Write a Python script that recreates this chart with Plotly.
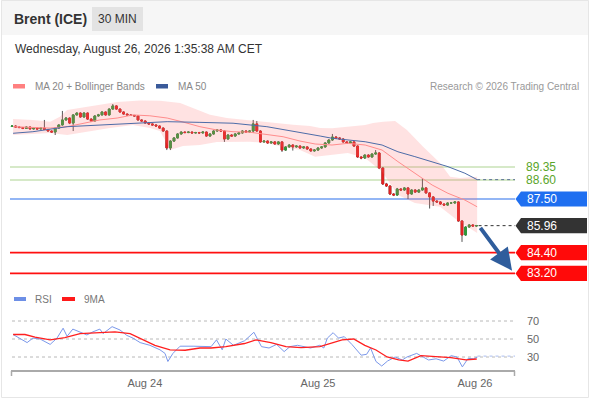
import plotly.graph_objects as go

# ---------------- DATA ----------------
title = "Brent (ICE)"
timeframe = "30 MIN"
timestamp = "Wednesday, August 26, 2026 1:35:38 AM CET"

opens = [91.70, 91.72, 91.66, 91.63, 91.58, 91.66, 91.55, 91.60, 91.55, 91.60,
         91.52, 91.43, 91.37, 91.60, 91.78, 92.07, 92.18, 91.89, 92.36, 92.47,
         92.24, 92.47, 92.12, 92.01, 92.30, 92.36, 92.53, 92.36, 92.70, 92.88,
         92.70, 92.53, 92.41, 92.36, 92.33, 92.30, 92.07, 92.01, 91.89, 91.84,
         91.78, 91.72, 91.60, 91.43, 90.45, 90.85, 91.03, 91.26, 91.37, 91.34,
         91.37, 91.32, 91.34, 91.32, 91.37, 91.14, 91.26, 91.43, 91.49, 91.43,
         90.97, 91.20, 91.14, 91.26, 91.32, 91.43, 91.37, 91.43, 91.84, 91.43,
         90.80, 90.85, 90.74, 90.80, 90.68, 90.80, 90.33, 90.51, 90.62, 90.51,
         90.56, 90.45, 90.51, 90.39, 90.28, 90.33, 90.45, 90.51, 90.74, 90.91,
         91.08, 91.03, 90.97, 90.80, 90.74, 90.80, 90.56, 89.93, 89.87, 90.04,
         89.93, 90.10, 90.16, 89.29, 88.37, 88.25, 87.79, 87.73, 88.08, 88.02,
         88.14, 87.79, 88.02, 87.90, 88.02, 88.14, 87.85, 87.62, 87.38, 87.33,
         87.21, 87.15, 87.27, 87.27, 87.33, 86.23, 85.42, 85.88, 86.00, 85.94]
closes = [91.72, 91.66, 91.63, 91.58, 91.66, 91.55, 91.60, 91.55, 91.60, 91.52,
          91.43, 91.37, 91.60, 91.78, 92.07, 92.18, 91.89, 92.36, 92.47, 92.24,
          92.47, 92.12, 92.01, 92.30, 92.36, 92.53, 92.36, 92.70, 92.88, 92.70,
          92.53, 92.41, 92.36, 92.33, 92.30, 92.07, 92.01, 91.89, 91.84, 91.78,
          91.72, 91.60, 91.43, 90.45, 90.85, 91.03, 91.26, 91.37, 91.34, 91.37,
          91.32, 91.34, 91.32, 91.37, 91.14, 91.26, 91.43, 91.49, 91.43, 90.97,
          91.20, 91.14, 91.26, 91.32, 91.43, 91.37, 91.43, 91.84, 91.43, 90.80,
          90.85, 90.74, 90.80, 90.68, 90.80, 90.33, 90.51, 90.62, 90.51, 90.56,
          90.45, 90.51, 90.39, 90.28, 90.33, 90.45, 90.51, 90.74, 90.91, 91.08,
          91.03, 90.97, 90.80, 90.74, 90.80, 90.56, 89.93, 89.87, 90.04, 89.93,
          90.10, 90.16, 89.29, 88.37, 88.25, 87.79, 87.73, 88.08, 88.02, 88.14,
          87.79, 88.02, 87.90, 88.02, 88.14, 87.85, 87.62, 87.38, 87.33, 87.21,
          87.15, 87.27, 87.27, 87.33, 86.23, 85.42, 85.88, 86.00, 85.94, 85.96]
highs = [91.76, 91.75, 91.69, 91.66, 91.70, 91.69, 91.63, 91.64, 91.66, 92.07,
         91.55, 91.46, 91.63, 91.81, 92.59, 92.24, 92.21, 92.40, 92.51, 92.50,
         92.51, 92.50, 92.16, 92.34, 92.42, 92.57, 92.56, 92.74, 92.99, 92.92,
         92.73, 92.56, 92.44, 92.39, 92.36, 92.33, 92.10, 92.04, 91.92, 91.87,
         91.81, 91.75, 91.64, 91.47, 90.89, 91.07, 91.30, 91.41, 91.40, 91.41,
         91.40, 91.38, 91.38, 91.41, 91.40, 91.30, 91.47, 91.53, 91.53, 91.47,
         91.24, 91.24, 91.30, 91.36, 91.47, 91.47, 91.47, 92.07, 92.01, 91.47,
         90.89, 90.89, 90.84, 90.84, 90.84, 90.84, 90.55, 90.66, 90.66, 90.60,
         90.60, 90.55, 90.55, 90.43, 90.37, 90.49, 90.55, 90.78, 90.95, 91.26,
         91.14, 91.07, 91.01, 90.84, 90.84, 90.84, 90.60, 89.97, 90.08, 90.08,
         90.14, 90.33, 90.20, 89.33, 88.43, 88.29, 87.83, 88.14, 88.12, 88.18,
         88.18, 88.06, 88.06, 88.06, 88.71, 88.18, 87.89, 87.66, 87.42, 87.37,
         87.25, 87.31, 87.32, 87.37, 87.37, 86.27, 85.92, 86.04, 86.04, 86.00]
lows = [91.66, 91.63, 91.60, 91.54, 91.55, 91.51, 91.52, 91.52, 91.52, 91.49,
        91.40, 91.33, 91.20, 91.57, 91.75, 92.03, 91.83, 91.43, 92.33, 92.20,
        92.21, 92.08, 91.95, 91.98, 92.27, 92.33, 92.32, 92.33, 92.67, 92.66,
        92.49, 92.38, 92.33, 92.30, 92.27, 92.03, 91.97, 91.86, 91.80, 91.74,
        91.68, 91.56, 91.39, 90.33, 90.33, 90.80, 91.00, 91.22, 91.31, 91.31,
        91.28, 91.29, 91.28, 91.28, 91.10, 91.11, 91.22, 91.40, 91.39, 90.80,
        90.93, 91.10, 91.11, 91.22, 91.28, 91.33, 91.33, 91.32, 91.39, 90.76,
        90.76, 90.70, 90.70, 90.64, 90.64, 90.22, 90.29, 90.47, 90.30, 90.47,
        90.41, 90.41, 90.35, 90.24, 90.24, 90.29, 90.41, 90.47, 90.70, 90.87,
        90.99, 90.93, 90.76, 90.70, 90.70, 90.52, 89.89, 89.80, 89.83, 89.89,
        89.89, 90.06, 89.25, 88.31, 88.20, 87.73, 87.67, 87.69, 87.96, 87.98,
        87.50, 87.75, 87.86, 87.86, 87.98, 87.81, 86.95, 87.10, 87.27, 87.17,
        87.11, 87.11, 87.22, 87.23, 86.19, 85.02, 85.38, 85.84, 85.90, 85.90]

ma20_x = [0.3, 10.6, 15.3, 19.7, 24.4, 29.2, 33.6, 38.3, 43.1, 47.5, 52.2, 56.9, 61.4, 66.1,
          70.8, 75.3, 80, 84.2, 88.9, 93.3, 98.1, 102.8, 107.2, 111.9, 116.7, 121.1, 125.8, 129.2]
ma20 = [91.68, 91.60, 91.68, 91.89, 92.07, 92.18, 92.36, 92.31, 92.18, 91.95, 91.68, 91.49, 91.39, 91.36,
        91.24, 91.10, 90.85, 90.68, 90.62, 90.72, 90.62, 90.33, 89.66, 88.99, 88.31, 87.83, 87.44, 87.05]

ma50_x = [0.3, 5.8, 15.3, 24.4, 33.6, 43.1, 52.2, 61.4, 70.8, 80, 85.6, 88.9, 93.3, 98.1,
          102.8, 107.2, 111.9, 116.7, 121.1, 125.8, 129.2]
ma50 = [91.30, 91.39, 91.68, 91.78, 91.88, 91.97, 91.93, 91.88, 91.68, 91.37, 91.14, 91.01, 90.91, 90.81,
        90.62, 90.23, 89.95, 89.66, 89.37, 88.99, 88.62]

up_x = [0.3, 5.8, 10.6, 13.3, 15.3, 19.7, 24.4, 29.2, 35.6, 41.1, 46.7, 50.3, 55, 59.7, 64.2, 68.9,
        73.6, 78.1, 82.8, 85.6, 88.9, 93.3, 98.1, 100.3, 103.1, 106.4, 109.7, 114.2, 118.9, 121.7, 124.4, 129.2]
upper = [92.12, 92.07, 91.97, 92.26, 92.64, 92.78, 92.93, 93.11, 93.19, 93.18, 93.05, 92.76, 92.37, 92.18,
         92.08, 92.01, 91.89, 91.79, 91.72, 91.60, 91.59, 91.68, 91.78, 91.89, 91.97, 92.01, 91.49, 90.52,
         89.58, 88.79, 88.71, 88.79]
lo_x = [0.3, 10.6, 15.3, 19.7, 27.2, 33.6, 38.3, 41.1, 42.5, 43.9, 47.5, 52.2, 56.9, 66.1, 70.8, 75.3,
        80, 84.2, 88.9, 93.3, 98.1, 102.8, 107.2, 111.9, 118.9, 123.6, 129.2]
lower = [91.20, 91.32, 91.20, 91.32, 91.60, 91.78, 91.60, 91.43, 90.91, 90.33, 90.56, 90.62, 90.80, 90.81,
         90.74, 90.51, 90.33, 89.94, 90.04, 90.16, 89.87, 89.08, 87.73, 87.27, 87.05, 86.29, 85.53]

rsi_x = [0.3, 2.2, 4.2, 5.8, 7.8, 10.6, 12.5, 14.2, 15.3, 16.9, 18.9, 20.8, 22.5, 24.4, 25.3, 27.8, 30,
         31.9, 33.6, 35.6, 38.3, 41.1, 42.5, 43.3, 44.7, 46.7, 50.3, 53.2, 55.3, 56.8, 58.4, 59.4, 61.5,
         64.6, 67.2, 69.3, 71.4, 73.5, 75.6, 77.2, 79.3, 82.9, 85.5, 86.6, 87.6, 89.2, 90.7, 92.3, 94.4,
         97, 98.5, 99.6, 101.1, 102.7, 104.3, 106.4, 108.4, 109.7, 112.4, 114.2, 115.7, 117.8, 119.9,
         122, 123.6, 125.1, 126.7, 128.2, 129.3]
rsi = [55, 51, 46, 51, 50, 44, 51, 62, 53, 61, 58, 54.5, 58, 61, 56, 63.7, 60, 54, 51, 46, 43, 38, 34,
       25, 34, 42, 42, 42, 41.5, 49, 38, 50, 43, 48, 57.5, 41.5, 40, 44, 36, 41.5, 43, 40, 43, 40, 51,
       57, 51, 52.6, 44, 32, 33, 40, 25, 20, 25.5, 30, 26.7, 30, 34, 30, 26.7, 28, 25.5, 31.5, 30, 19,
       28.5, 28, 30]
ma9_x = [0.3, 3.6, 6.4, 10.6, 14.7, 18.9, 24.4, 28.6, 32.8, 35.6, 39.7, 43.9, 48.1, 52.2, 55.3, 59.4,
         64.6, 67.8, 71.9, 76.1, 80.3, 85.5, 88.6, 91.7, 94.9, 98, 101.1, 104.2, 107.4, 110, 113.6,
         117.8, 121.9, 126.1, 129.1]
rsi_ma9 = [55, 55, 52, 49, 51.5, 56, 57, 58, 56, 51, 43, 38, 37.5, 40, 40, 41.5, 45, 49, 46, 41.5,
           40.4, 41.5, 45, 49, 50, 43, 37.8, 30, 26.7, 25.5, 31.5, 30, 29.3, 26.7, 27.8]
rsi_levels = [30, 50, 70]

resistances = [89.35, 88.60]
pivot = 87.50
supports = [84.40, 83.20]
last_price = 85.96

date_ticks = [36.9, 85.0, 128.6]
date_labels = ["Aug 24", "Aug 25", "Aug 26"]

arrow_from = (129.8, 85.92)
arrow_to = (138.9, 83.36)

# ---------------- STYLE / LAYOUT ----------------
W, H = 590, 400
FONT = "Liberation Sans, Arial, sans-serif"
GREEN, RED = "#2e9a3a", "#e42222"
X_RANGE = [-0.556, 139.72]
P_RANGE = [82.645, 93.512]
R_RANGE = [14.44, 87.78]


def fx(px):
    return px / W


def fy(py):
    return 1 - py / H


n = len(closes)
idx = list(range(n))

fig = go.Figure()

# Bollinger band area
fig.add_trace(go.Scatter(x=up_x + lo_x[::-1], y=upper + lower[::-1], fill="toself",
                         fillcolor="rgba(255,110,110,0.2)", line=dict(width=0),
                         mode="lines", hoverinfo="skip", xaxis="x", yaxis="y"))
fig.add_trace(go.Scatter(x=ma20_x, y=ma20, mode="lines", line=dict(color="#ff8c8c", width=1),
                         xaxis="x", yaxis="y"))
fig.add_trace(go.Scatter(x=ma50_x, y=ma50, mode="lines", line=dict(color="#4d6ca8", width=1),
                         xaxis="x", yaxis="y"))
# MA50 projection
fig.add_trace(go.Scatter(x=[ma50_x[-1], X_RANGE[1]], y=[ma50[-1], ma50[-1]], mode="lines",
                         line=dict(color="#5b6f95", width=1, dash="dot"), xaxis="x", yaxis="y"))

# candles: wicks (gray) then coloured bodies
fig.add_trace(go.Candlestick(x=idx, open=opens, high=highs, low=lows, close=closes,
                             increasing=dict(line=dict(color="#555555", width=1), fillcolor=GREEN),
                             decreasing=dict(line=dict(color="#555555", width=1), fillcolor=RED),
                             whiskerwidth=0, xaxis="x", yaxis="y", hoverinfo="skip"))
fig.add_trace(go.Candlestick(x=idx, open=opens, close=closes,
                             high=[max(o, c) for o, c in zip(opens, closes)],
                             low=[min(o, c) for o, c in zip(opens, closes)],
                             increasing=dict(line=dict(color=GREEN, width=1), fillcolor=GREEN),
                             decreasing=dict(line=dict(color=RED, width=1), fillcolor=RED),
                             whiskerwidth=0, xaxis="x", yaxis="y", hoverinfo="skip"))

# last price dotted
fig.add_trace(go.Scatter(x=[n - 1 + 0.6, X_RANGE[1]], y=[last_price, last_price], mode="lines",
                         line=dict(color="#333333", width=1, dash="dot"), xaxis="x", yaxis="y"))

# RSI panel
fig.add_trace(go.Scatter(x=rsi_x, y=rsi, mode="lines", line=dict(color="#7b98ea", width=1),
                         xaxis="x2", yaxis="y2"))
fig.add_trace(go.Scatter(x=[rsi_x[-1], X_RANGE[1]], y=[rsi[-1] + 1, rsi[-1] + 1], mode="lines",
                         line=dict(color="#a9bcf0", width=1, dash="dot"), xaxis="x2", yaxis="y2"))
fig.add_trace(go.Scatter(x=ma9_x, y=rsi_ma9, mode="lines", line=dict(color="#ff1f1f", width=1.3),
                         xaxis="x2", yaxis="y2"))

shapes = []
annotations = []

# frame + header band
shapes.append(dict(type="rect", xref="paper", yref="paper", x0=fx(1), x1=fx(589), y0=fy(35), y1=fy(0),
                   fillcolor="#f6f6f6", line=dict(width=0), layer="below"))
shapes.append(dict(type="rect", xref="paper", yref="paper", x0=fx(1.5), x1=fx(588.5), y0=fy(397.5), y1=fy(0.5),
                   fillcolor="rgba(0,0,0,0)", line=dict(color="#e6e6e6", width=1), layer="below"))
shapes.append(dict(type="rect", xref="paper", yref="paper", x0=fx(92), x1=fx(143), y0=fy(31), y1=fy(7),
                   fillcolor="#e3e3e3", line=dict(width=0)))
annotations.append(dict(text="<b>" + title + "</b>", x=fx(12), y=fy(19), xref="paper", yref="paper",
                        xanchor="left", yanchor="middle", showarrow=False,
                        font=dict(family=FONT, size=14, color="#333333")))
annotations.append(dict(text=timeframe, x=fx(117.5), y=fy(19), xref="paper", yref="paper",
                        xanchor="center", yanchor="middle", showarrow=False,
                        font=dict(family=FONT, size=12, color="#333333")))
annotations.append(dict(text=timestamp, x=fx(13), y=fy(49), xref="paper", yref="paper",
                        xanchor="left", yanchor="middle", showarrow=False,
                        font=dict(family=FONT, size=12, color="#333333")))

# legends
shapes.append(dict(type="rect", xref="paper", yref="paper", x0=fx(13), x1=fx(25), y0=fy(88.5), y1=fy(84),
                   fillcolor="#ff8080", line=dict(width=0)))
annotations.append(dict(text="MA 20 + Bollinger Bands", x=fx(33), y=fy(86.5), xref="paper", yref="paper",
                        xanchor="left", yanchor="middle", showarrow=False,
                        font=dict(family=FONT, size=10, color="#888888")))
shapes.append(dict(type="rect", xref="paper", yref="paper", x0=fx(156), x1=fx(168), y0=fy(88.5), y1=fy(84),
                   fillcolor="#3a5a9a", line=dict(width=0)))
annotations.append(dict(text="MA 50", x=fx(176), y=fy(86.5), xref="paper", yref="paper",
                        xanchor="left", yanchor="middle", showarrow=False,
                        font=dict(family=FONT, size=10, color="#888888")))
annotations.append(dict(text="Research © 2026 Trading Central", x=fx(581), y=fy(86.5), xref="paper",
                        yref="paper", xanchor="right", yanchor="middle", showarrow=False,
                        font=dict(family=FONT, size=10, color="#999999")))
shapes.append(dict(type="rect", xref="paper", yref="paper", x0=fx(14), x1=fx(26), y0=fy(301), y1=fy(297),
                   fillcolor="#6d8fe6", line=dict(width=0)))
annotations.append(dict(text="RSI", x=fx(33), y=fy(299), xref="paper", yref="paper",
                        xanchor="left", yanchor="middle", showarrow=False,
                        font=dict(family=FONT, size=10, color="#777777")))
shapes.append(dict(type="rect", xref="paper", yref="paper", x0=fx(62), x1=fx(75), y0=fy(301), y1=fy(297),
                   fillcolor="#ff1a1a", line=dict(width=0)))
annotations.append(dict(text="9MA", x=fx(82), y=fy(299), xref="paper", yref="paper",
                        xanchor="left", yanchor="middle", showarrow=False,
                        font=dict(family=FONT, size=10, color="#777777")))

# level lines
for lv in resistances:
    shapes.append(dict(type="line", xref="x domain", yref="y", x0=0, x1=1, y0=lv, y1=lv,
                       line=dict(color="#c8e2b6", width=1.6), layer="below"))
    annotations.append(dict(text=f"{lv:.2f}", x=fx(524), y=lv, xref="paper", yref="y",
                            xanchor="left", yanchor="middle", showarrow=False,
                            font=dict(family=FONT, size=12, color="#5aa52a")))
shapes.append(dict(type="line", xref="x domain", yref="y", x0=0, x1=1, y0=pivot, y1=pivot,
                   line=dict(color="#6f9ef2", width=1.6), layer="below"))
for lv in supports:
    shapes.append(dict(type="line", xref="x domain", yref="y", x0=0, x1=1, y0=lv, y1=lv,
                       line=dict(color="#ff1010", width=1.6), layer="below"))

HALF = 7.6 / 17.3  # tag half-height in price units


def tag(level, color):
    xt, xb, xr = fx(515.5), fx(521), fx(587)
    path = (f"M {xt},{level} L {xb},{level + HALF} L {xr},{level + HALF} "
            f"L {xr},{level - HALF} L {xb},{level - HALF} Z")
    shapes.append(dict(type="path", xref="paper", yref="y", path=path, fillcolor=color,
                       line=dict(width=0)))
    annotations.append(dict(text=f"{level:.2f}", x=fx(524.5), y=level, xref="paper", yref="y",
                            xanchor="left", yanchor="middle", showarrow=False,
                            font=dict(family=FONT, size=12, color="#ffffff")))


tag(pivot, "#1f6ff0")
tag(last_price, "#333333")
for lv in supports:
    tag(lv, "#ff0a0a")

# forecast arrow
annotations.append(dict(x=arrow_to[0], y=arrow_to[1], ax=arrow_from[0], ay=arrow_from[1],
                        xref="x", yref="y", axref="x", ayref="y", text="", showarrow=True,
                        arrowhead=2, arrowsize=1.1, arrowwidth=4, arrowcolor="#2f5d9c"))

# RSI levels
for lv in rsi_levels:
    shapes.append(dict(type="line", xref="paper", yref="y2", x0=fx(12), x1=fx(515), y0=lv, y1=lv,
                       line=dict(color="#b8b8b8", width=1, dash="dot"), layer="below"))
    annotations.append(dict(text=str(lv), x=fx(525), y=lv, xref="paper", yref="y2",
                            xanchor="left", yanchor="middle", showarrow=False,
                            font=dict(family=FONT, size=11, color="#666666")))

# RSI x axis line with end ticks
shapes.append(dict(type="line", xref="paper", yref="paper", x0=fx(11), x1=fx(515), y0=fy(371), y1=fy(371),
                   line=dict(color="#aaaaaa", width=2)))
for ex in (11.5, 514.5):
    shapes.append(dict(type="line", xref="paper", yref="paper", x0=fx(ex), x1=fx(ex), y0=fy(371),
                       y1=fy(376), line=dict(color="#aaaaaa", width=1.5)))

fig.update_layout(
    width=W, height=H, margin=dict(l=0, r=0, t=0, b=0),
    paper_bgcolor="#ffffff", plot_bgcolor="rgba(0,0,0,0)",
    showlegend=False, shapes=shapes, annotations=annotations,
    xaxis=dict(domain=[fx(10), fx(515)], range=X_RANGE, visible=False, anchor="y",
               rangeslider=dict(visible=False), fixedrange=True),
    yaxis=dict(domain=[fy(283), fy(95)], range=P_RANGE, visible=False, anchor="x"),
    xaxis2=dict(domain=[fx(10), fx(515)], range=X_RANGE, anchor="y2", showgrid=False, zeroline=False,
                showline=False, tickvals=date_ticks, ticktext=date_labels, ticks="",
                tickfont=dict(family=FONT, size=11, color="#666666"), ticklabelstandoff=4),
    yaxis2=dict(domain=[fy(371), fy(305)], range=R_RANGE, visible=False, anchor="x2"),
)

fig.write_html("out.html", config={"displayModeBar": False},
               post_script="document.body.style.margin='0';document.body.style.overflow='hidden';")
